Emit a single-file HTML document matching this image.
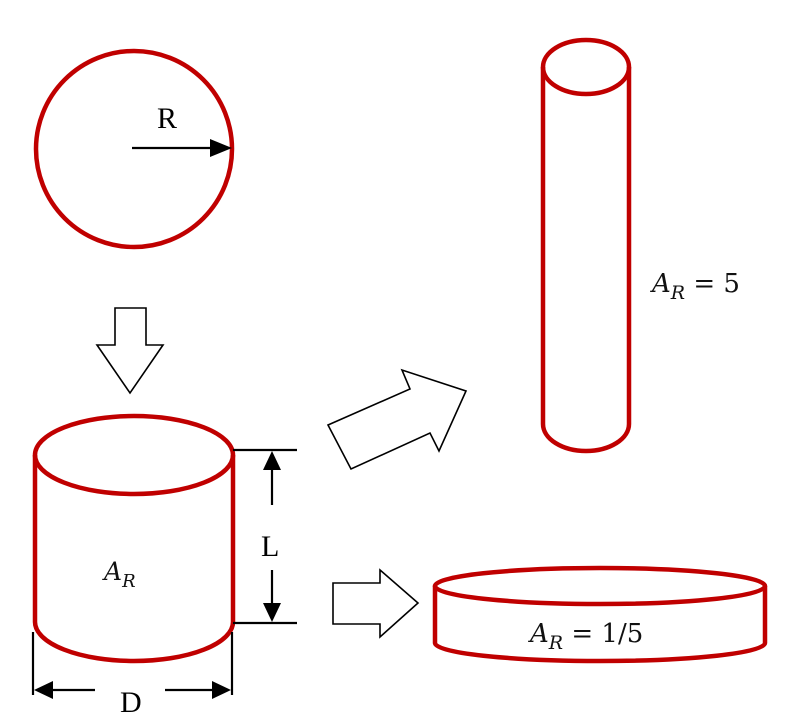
<!DOCTYPE html>
<html><head><style>html,body{margin:0;padding:0;background:#fff;}svg{display:block;}</style></head>
<body>
<svg width="788" height="725" viewBox="0 0 788 725" xmlns="http://www.w3.org/2000/svg">
<g fill="none" stroke="#c00000" stroke-width="4.5">
<circle cx="134" cy="149" r="98"/>
<ellipse cx="134" cy="455" rx="99" ry="39" fill="#fff"/>
<path d="M35 455 V622 A99 39 0 0 0 233 622 V455"/>
<ellipse cx="586" cy="67" rx="43" ry="27"/>
<path d="M543 67 V424 A43 27 0 0 0 629 424 V67"/>
<ellipse cx="600" cy="586" rx="165" ry="18"/>
<path d="M435 586 V643 A165 18 0 0 0 765 643 V586"/>
</g>
<g stroke="#000" stroke-width="2.2" fill="#000">
<line x1="132" y1="148" x2="216" y2="148"/>
<polygon points="232,148 210,139 210,157" stroke="none"/>
<line x1="233" y1="450" x2="297" y2="450"/>
<line x1="233" y1="623" x2="297" y2="623"/>
<line x1="272" y1="466" x2="272" y2="505"/>
<polygon points="272,451 263,470 281,470" stroke="none"/>
<line x1="272" y1="570" x2="272" y2="608"/>
<polygon points="272,622 263,603 281,603" stroke="none"/>
<line x1="33" y1="632" x2="33" y2="695"/>
<line x1="232" y1="632" x2="232" y2="695"/>
<line x1="48" y1="690" x2="95" y2="690"/>
<polygon points="34,690 53,681 53,699" stroke="none"/>
<line x1="165" y1="690" x2="216" y2="690"/>
<polygon points="231,690 212,681 212,699" stroke="none"/>
</g>
<g fill="#fff" stroke="#000" stroke-width="1.6" stroke-linejoin="miter">
<polygon points="115,308 146,308 146,345 163,345 130,393 97,345 115,345"/>
<polygon points="328,425 410,389 402,370 466,391 439,451 430,433 351,469"/>
<polygon points="333,583 380,583 380,570 418,603 380,637 380,624 333,624"/>
</g>
<g font-family="Liberation Serif, serif" font-size="30" fill="#000">
<text x="157" y="128">R</text>
<text x="261" y="556">L</text>
<text x="120" y="712">D</text>
</g>
<g font-family="DejaVu Serif, serif" fill="#111">
<text x="104" y="580" font-size="25" font-style="italic">A<tspan font-size="18" dy="7">R</tspan></text>
<text x="652" y="292" font-size="26"><tspan font-style="italic">A</tspan><tspan font-size="19" dy="7" font-style="italic">R</tspan><tspan dy="-7"> = 5</tspan></text>
<text x="530" y="642" font-size="26"><tspan font-style="italic">A</tspan><tspan font-size="19" dy="7" font-style="italic">R</tspan><tspan dy="-7"> = 1/5</tspan></text>
</g>
</svg>
</body></html>
